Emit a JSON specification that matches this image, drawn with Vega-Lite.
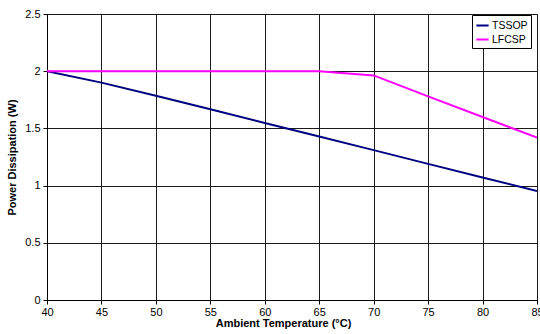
{
  "$schema": "https://vega.github.io/schema/vega-lite/v6.json",
  "width": 490,
  "height": 286,
  "autosize": {"type": "none"},
  "padding": {"left": 47, "top": 14, "right": 3, "bottom": 34},
  "background": "white",
  "config": {
    "font": "Liberation Sans",
    "view": {"stroke": "#808080", "strokeWidth": 1},
    "axis": {
      "labelFont": "Liberation Sans",
      "titleFont": "Liberation Sans",
      "labelFontSize": 11,
      "titleFontSize": 11,
      "titleFontWeight": "bold",
      "labelColor": "black",
      "titleColor": "black",
      "domainColor": "black",
      "tickColor": "black",
      "tickSize": 4,
      "gridColor": "#1a1a1a",
      "gridOpacity": 1,
      "gridWidth": 1
    }
  },
  "data": {
    "values": [
      {"t": 40, "p": 2.0, "s": "TSSOP"},
      {"t": 45, "p": 1.90, "s": "TSSOP"},
      {"t": 50, "p": 1.786, "s": "TSSOP"},
      {"t": 55, "p": 1.667, "s": "TSSOP"},
      {"t": 60, "p": 1.548, "s": "TSSOP"},
      {"t": 65, "p": 1.43, "s": "TSSOP"},
      {"t": 70, "p": 1.31, "s": "TSSOP"},
      {"t": 75, "p": 1.19, "s": "TSSOP"},
      {"t": 80, "p": 1.071, "s": "TSSOP"},
      {"t": 85, "p": 0.952, "s": "TSSOP"},
      {"t": 40, "p": 2.0, "s": "LFCSP"},
      {"t": 45, "p": 2.0, "s": "LFCSP"},
      {"t": 50, "p": 2.0, "s": "LFCSP"},
      {"t": 55, "p": 2.0, "s": "LFCSP"},
      {"t": 60, "p": 2.0, "s": "LFCSP"},
      {"t": 65, "p": 2.0, "s": "LFCSP"},
      {"t": 70, "p": 1.963, "s": "LFCSP"},
      {"t": 75, "p": 1.78, "s": "LFCSP"},
      {"t": 80, "p": 1.60, "s": "LFCSP"},
      {"t": 85, "p": 1.42, "s": "LFCSP"}
    ]
  },
  "mark": {"type": "line", "strokeWidth": 2, "clip": true},
  "encoding": {
    "x": {
      "field": "t",
      "type": "quantitative",
      "title": "Ambient Temperature (°C)",
      "scale": {"domain": [40, 85], "nice": false, "zero": false},
      "axis": {"values": [40, 45, 50, 55, 60, 65, 70, 75, 80, 85], "labelPadding": 2, "titlePadding": 0, "titleX": 236, "labelFlush": false, "labelOverlap": false}
    },
    "y": {
      "field": "p",
      "type": "quantitative",
      "title": "Power Dissipation (W)",
      "scale": {"domain": [0, 2.5], "nice": false},
      "axis": {"values": [0, 0.5, 1, 1.5, 2, 2.5], "format": "~g", "labelPadding": 3, "titlePadding": 7, "labelFlush": false, "labelOverlap": false}
    },
    "color": {
      "field": "s",
      "type": "nominal",
      "sort": ["TSSOP", "LFCSP"],
      "scale": {"domain": ["TSSOP", "LFCSP"], "range": ["#000080", "#FF00FF"]},
      "legend": {
        "title": null,
        "orient": "none",
        "legendX": 425,
        "legendY": 1,
        "strokeColor": "black",
        "fillColor": "white",
        "padding": 3,
        "symbolType": "stroke",
        "symbolStrokeWidth": 2,
        "symbolSize": 150,
        "labelFontSize": 10.5,
        "labelColor": "black",
        "rowPadding": 1,
        "labelOffset": 2
      }
    }
  }
}
